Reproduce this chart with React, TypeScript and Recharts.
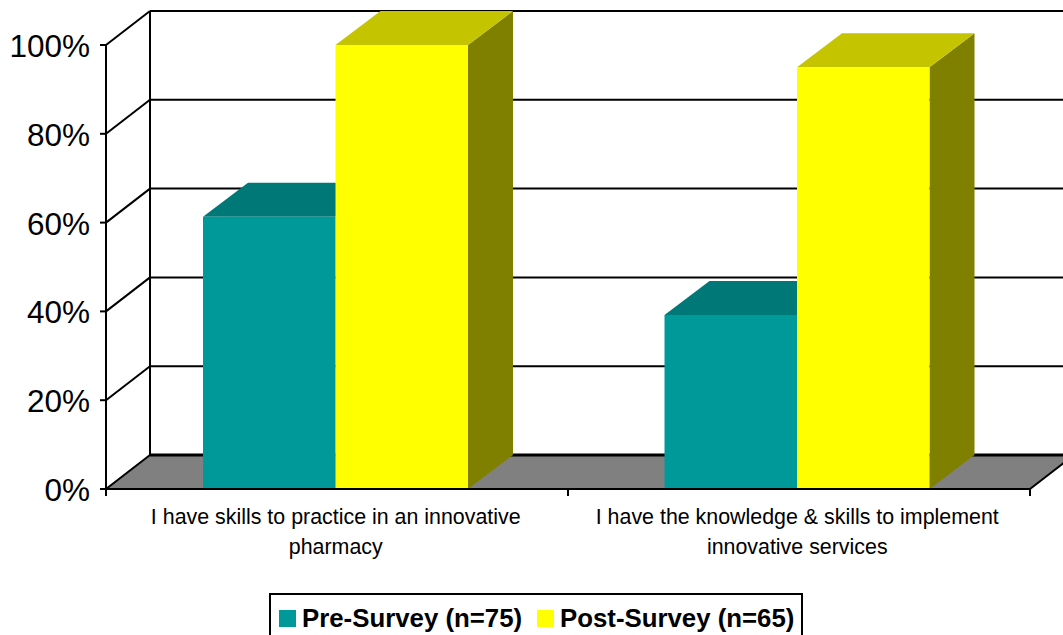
import React from "react";
import { BarChart, Bar, XAxis, YAxis, Legend, usePlotArea } from "recharts";

const categories = [
  "I have skills to practice in an innovative\npharmacy",
  "I have the knowledge & skills to implement\ninnovative services",
];
const preSurvey = [61.3, 39.2];
const postSurvey = [100, 95];
const yTicks = [0, 20, 40, 60, 80, 100];
const seriesNames = ["Pre-Survey (n=75)", "Post-Survey (n=65)"];
const data = categories.map((c, i) => ({ category: c, pre: preSurvey[i], post: postSurvey[i] }));

const FONT = "'Liberation Sans', Arial, sans-serif";
const DX = 44;
const DY = 34;
const BAR_DX = 45;

function Frame() {
  const plot = usePlotArea();
  if (!plot) return null;
  const { x, y, width, height } = plot;
  const bottom = y + height;
  const right = x + width;
  const yOf = (v: number) => bottom - (height * v) / 100;
  return (
    <g>
      <polygon
        points={`${x},${bottom} ${x + DX},${bottom - DY} ${right + DX},${bottom - DY} ${right},${bottom}`}
        fill="#808080"
      />
      {yTicks.slice(1).map((v) => (
        <g key={v}>
          <line x1={x + DX} x2={right + DX} y1={yOf(v) - DY} y2={yOf(v) - DY} stroke="#000" strokeWidth={2} />
          <line x1={x} x2={x + DX} y1={yOf(v)} y2={yOf(v) - DY} stroke="#000" strokeWidth={2} />
        </g>
      ))}
      <line x1={x + DX} x2={x + DX} y1={yOf(100) - DY} y2={bottom - DY} stroke="#000" strokeWidth={2} />
      <line x1={x + DX} x2={right + DX} y1={bottom - DY} y2={bottom - DY} stroke="#000" strokeWidth={3} />
      <line x1={x} x2={x + DX} y1={bottom} y2={bottom - DY} stroke="#000" strokeWidth={2} />
      <line x1={right} x2={right + DX} y1={bottom} y2={bottom - DY} stroke="#000" strokeWidth={2} />
      {[0, 1, 2].map((i) => (
        <line key={i} x1={x + (width * i) / 2} x2={x + (width * i) / 2} y1={bottom} y2={bottom + 7} stroke="#000" strokeWidth={2} />
      ))}
    </g>
  );
}

function Box3D(props: any, top: string, side: string) {
  const { x, y, width, height, fill } = props;
  const r = x + width;
  const b = y + height;
  return (
    <g>
      <polygon points={`${r},${y} ${r + BAR_DX},${y - DY} ${r + BAR_DX},${b - DY} ${r},${b}`} fill={side} />
      <polygon points={`${x},${y} ${x + BAR_DX},${y - DY} ${r + BAR_DX},${y - DY} ${r},${y}`} fill={top} />
      <rect x={x} y={y} width={width} height={height} fill={fill} />
    </g>
  );
}

function XTick({ x, y, payload }: any) {
  const lines = String(payload.value).split("\n");
  return (
    <text x={x} textAnchor="middle" fontFamily={FONT} fontSize={21.4} fill="#000">
      {lines.map((l, i) => (
        <tspan key={i} x={x} y={y + 27 + i * 30}>
          {l}
        </tspan>
      ))}
    </text>
  );
}

function YTick({ x, y, payload }: any) {
  return (
    <text x={x} y={y + 12} textAnchor="end" fontFamily={FONT} fontSize={31.5} fill="#000">
      {`${payload.value}%`}
    </text>
  );
}

function LegendBox({ payload }: any) {
  const items = seriesNames.map((n) => (payload || []).find((e: any) => e.value === n)).filter(Boolean);
  return (
    <div
      style={{
        width: 534,
        height: 46,
        boxSizing: "border-box",
        border: "2px solid #000",
        background: "#fff",
        position: "relative",
        fontFamily: FONT,
        fontWeight: "bold",
        fontSize: 25.8,
        color: "#000",
        whiteSpace: "nowrap",
      }}
    >
      {items.map((e: any, i: number) => (
        <div key={e.value} style={{ position: "absolute", left: i === 0 ? 8 : 266, top: 9, display: "flex", alignItems: "center", height: 28 }}>
          <span style={{ display: "inline-block", width: 17, height: 17, background: e.color, marginRight: 6 }} />
          <span>{e.value}</span>
        </div>
      ))}
    </div>
  );
}

export default function App() {
  return (
    <div style={{ position: "absolute", left: 0, top: 0, width: 1063, height: 635, overflow: "hidden", background: "#fff" }}>
      <BarChart
        width={1063}
        height={635}
        data={data}
        margin={{ top: 45, right: 33, bottom: 0, left: 0 }}
        barSize={132.5}
        barGap={0}
      >
        <Frame />
        <XAxis
          dataKey="category"
          height={146}
          padding={{ left: -1, right: 2 }}
          tickLine={false}
          axisLine={{ stroke: "#000", strokeWidth: 2 }}
          tick={<XTick />}
          interval={0}
        />
        <YAxis
          type="number"
          domain={[0, 100]}
          ticks={yTicks}
          width={106}
          tickSize={6}
          tickMargin={10}
          axisLine={{ stroke: "#000", strokeWidth: 2 }}
          tickLine={{ stroke: "#000", strokeWidth: 2 }}
          tick={<YTick />}
        />
        <Bar dataKey="pre" name={seriesNames[0]} fill="#009999" isAnimationActive={false} shape={(p: any) => Box3D(p, "#007878", "#007070")} />
        <Bar dataKey="post" name={seriesNames[1]} fill="#ffff00" isAnimationActive={false} shape={(p: any) => Box3D(p, "#c4c400", "#808000")} />
        <Legend
          layout="horizontal"
          align="center"
          verticalAlign="middle"
          wrapperStyle={{ left: 269, top: 593, width: 534, bottom: "auto", right: "auto" }}
          content={<LegendBox />}
        />
      </BarChart>
    </div>
  );
}
